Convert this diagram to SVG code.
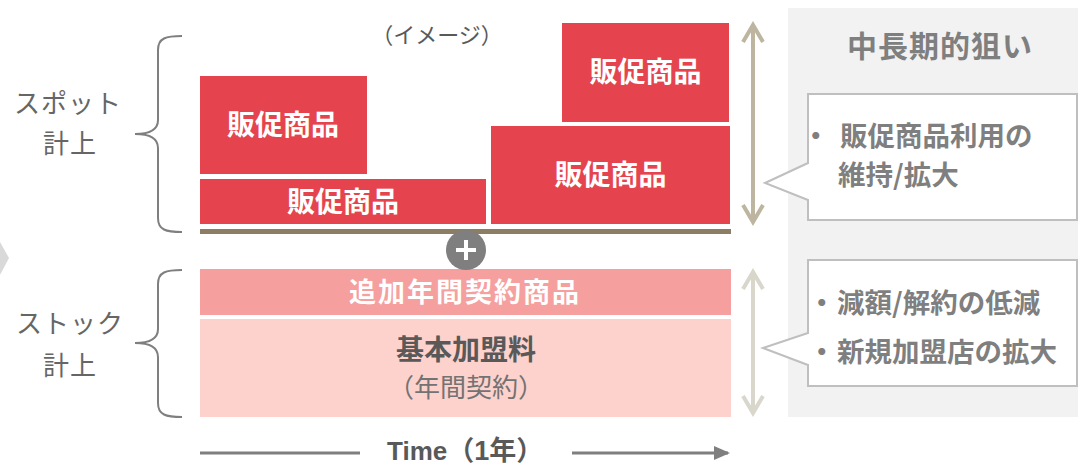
<svg xmlns="http://www.w3.org/2000/svg" width="1078" height="465" viewBox="0 0 1078 465">
<style>
.jp{font-family:"Noto Sans CJK JP","Noto Sans",sans-serif}
.red{fill:#e5444f}
.wt{fill:#fff;font-weight:bold;font-size:28px;text-anchor:middle}
.lbl{fill:#666;font-size:26px;text-anchor:middle;letter-spacing:1px}
.call{fill:#fff;stroke:#bfbfbf;stroke-width:2}
.ct{fill:#7f7f7f;font-weight:bold;font-size:27.5px}
.brace{fill:none;stroke:#7f7f7f;stroke-width:2}
</style>
<defs>
<marker id="ah" viewBox="0 0 16 16" refX="14" refY="8" markerWidth="16" markerHeight="16" markerUnits="userSpaceOnUse" orient="auto"><path d="M0,1 L16,8 L0,15 Z" fill="#7f7f7f"/></marker>
</defs>
<rect x="788" y="8" width="290" height="409" fill="#f2f2f2"/>
<polygon points="0,242 9,258 0,275" fill="#d9d9d9"/>
<g id="label-spot"><text class="jp lbl" x="68" y="113">スポット</text><text class="jp lbl" x="70" y="153">計上</text></g>
<g id="label-stock"><text class="jp lbl" x="70" y="333">ストック</text><text class="jp lbl" x="70" y="375">計上</text></g>
<g id="image-note"><text class="jp" x="437" y="43" font-size="22" fill="#595959" text-anchor="middle">（イメージ）</text></g>
<g id="box1"><rect class="red" x="200" y="76" width="167" height="98"/><text class="jp wt" x="283" y="135">販促商品</text></g>
<g id="box2"><rect class="red" x="200" y="179" width="286" height="45"/><text class="jp wt" x="343" y="212">販促商品</text></g>
<g id="box3"><rect class="red" x="562" y="23" width="167" height="99"/><text class="jp wt" x="645.5" y="82">販促商品</text></g>
<g id="box4"><rect class="red" x="491" y="126" width="239" height="98"/><text class="jp wt" x="610.5" y="185">販促商品</text></g>
<g id="baseline"><rect x="200" y="229" width="531" height="5" fill="#8c7e65"/></g>
<g id="addon"><rect x="200" y="269" width="531" height="46" fill="#f5a09e"/><text class="jp" x="465" y="302" font-size="27" font-weight="bold" fill="#fff" text-anchor="middle" letter-spacing="2">追加年間契約商品</text></g>
<g id="base-fee"><rect x="200" y="319" width="531" height="98" fill="#fdd2cc"/><text class="jp" x="466" y="360" font-size="28" font-weight="bold" fill="#595959" text-anchor="middle">基本加盟料</text><text class="jp" x="466" y="397" font-size="26" fill="#737373" text-anchor="middle">（年間契約）</text></g>
<g id="plus"><circle cx="466" cy="250" r="20" fill="#7f7f7f"/><path d="M456,250 H476 M466,240 V260" stroke="#fff" stroke-width="4"/></g>
<g id="panel-title"><text class="jp" x="940" y="57" font-size="30" font-weight="bold" fill="#7f7f7f" text-anchor="middle" letter-spacing="1">中長期的狙い</text></g>
<g id="callout1"><path class="call" d="M808,94 H1077 V220 H808 V200 L765,183 L808,163 Z"/><text class="jp ct" y="146"><tspan x="802">・</tspan><tspan x="840">販促商品利用の</tspan></text><text class="jp ct" x="838" y="185">維持/拡大</text></g>
<g id="callout2"><path class="call" d="M808,260 H1077 V386 H808 V365 L763,348 L808,333 Z"/><text class="jp ct" y="313"><tspan x="808">・</tspan><tspan x="837">減額/解約の低減</tspan></text><text class="jp ct" y="362"><tspan x="808">・</tspan><tspan x="837">新規加盟店の拡大</tspan></text></g>
<g id="time"><text x="387" y="460" font-family="Liberation Sans,Noto Sans CJK JP,sans-serif" font-size="26" font-weight="bold" fill="#595959">Time<tspan font-size="27">（1年）</tspan></text></g>
<g id="connectors">
<path class="brace" d="M182,36 C166,36 158,38 158,50 V120 C158,130 150,134 135,134 C150,134 158,138 158,148 V218 C158,230 166,232 182,232"/>
<path class="brace" d="M182,270 C166,270 158,272 158,284 V329 C158,339 150,343 135,343 C150,343 158,347 158,357 V403 C158,415 166,417 182,417"/>
<g fill="none" stroke="#bdb5a0" stroke-width="4"><path d="M753,25 V222"/><path d="M743,42 L753,25 L763,42"/><path d="M743,205 L753,222 L763,205"/></g>
<g fill="none" stroke="#d9d6cc" stroke-width="4"><path d="M753,272 V413"/><path d="M743,289 L753,272 L763,289"/><path d="M743,396 L753,413 L763,396"/></g>
<path d="M200,453 H360" stroke="#7f7f7f" stroke-width="3"/>
<path d="M572,453 H728" stroke="#7f7f7f" stroke-width="3" marker-end="url(#ah)"/>
</g>
</svg>
